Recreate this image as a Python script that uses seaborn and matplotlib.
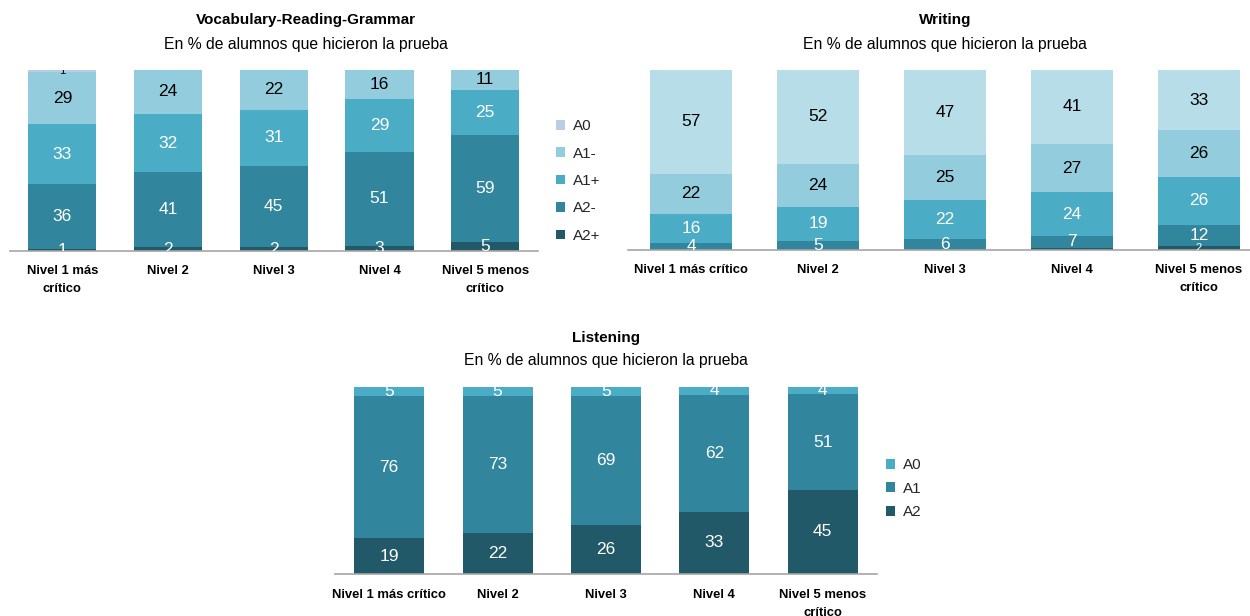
import matplotlib
matplotlib.use("Agg")
import matplotlib.pyplot as plt
import seaborn as sns
import numpy as np
import pandas as pd
from matplotlib.patches import Patch

sns.set_theme(style="white")
plt.rcParams['font.family'] = ['Liberation Sans', 'DejaVu Sans']

# ---------------- data ----------------
vrg_cats = ["Nivel 1 más\ncrítico", "Nivel 2", "Nivel 3", "Nivel 4", "Nivel 5 menos\ncrítico"]
wr_cats = ["Nivel 1 más crítico", "Nivel 2", "Nivel 3", "Nivel 4", "Nivel 5 menos\ncrítico"]
li_cats = ["Nivel 1 más crítico", "Nivel 2", "Nivel 3", "Nivel 4", "Nivel 5 menos\ncrítico"]

vrg_levels = ["A2+", "A2-", "A1+", "A1-", "A0"]
vrg_A2p = [1, 2, 2, 3, 5]
vrg_A2m = [36, 41, 45, 51, 59]
vrg_A1p = [33, 32, 31, 29, 25]
vrg_A1m = [29, 24, 22, 16, 11]
vrg_A0 = [1, 0, 0, 0, 0]

wr_A2p = [0, 0, 0, 1, 2]
wr_A2m = [4, 5, 6, 7, 12]
wr_A1p = [16, 19, 22, 24, 26]
wr_A1m = [22, 24, 25, 27, 26]
wr_A0 = [57, 52, 47, 41, 33]

li_levels = ["A2", "A1", "A0"]
li_A2 = [19, 22, 26, 33, 45]
li_A1 = [76, 73, 69, 62, 51]
li_A0 = [5, 5, 5, 4, 4]

titles = ["Vocabulary-Reading-Grammar", "Writing", "Listening"]
subtitle = "En % de alumnos que hicieron la prueba"

# ---------------- style ----------------
C_A2P = "#215968"
C_A2M = "#31859c"
C_A1P = "#4bacc6"
C_A1M = "#93cddd"
C_A0_VRG = "#b9cde5"
C_A0_WR = "#b7dee8"

W, H = 1250, 616
fig = plt.figure(figsize=(W / 100, H / 100), dpi=100)

def px_axes(l, t, r, b):
    return fig.add_axes([l / W, 1 - b / H, (r - l) / W, (b - t) / H])

def stacked(ax, cats, series, colors, txtcolors, small=None, min_label=1):
    raw = np.array(series, dtype=float)
    totals = raw.sum(axis=0)
    pct = raw / totals * 100.0  # 100% stacked columns
    bottom = np.zeros(len(cats))
    for i, (vals, col, tc) in enumerate(zip(pct, colors, txtcolors)):
        df = pd.DataFrame({"cat": cats, "val": vals})
        sns.barplot(data=df, x="cat", y="val", order=cats, color=col,
                    bottom=bottom, width=0.645, ax=ax, saturation=1,
                    edgecolor="none", linewidth=0, errorbar=None)
        for j, v in enumerate(vals):
            rv = raw[i][j]
            if rv < min_label:
                continue
            fs = 12.5
            if small is not None and small[i][j]:
                fs = 8
            ax.text(j, bottom[j] + v / 2, f"{int(rv)}", ha="center", va="center",
                    color=tc, fontsize=fs, clip_on=True)
        bottom = bottom + vals
    ax.set_xlim(-0.5, 4.5)
    ax.set_ylim(0, 100)
    ax.set_xlabel("")
    ax.set_ylabel("")
    ax.set_yticks([])
    for s in ["top", "left", "right"]:
        ax.spines[s].set_visible(False)
    ax.spines["bottom"].set_color("#a6a6a6")
    ax.spines["bottom"].set_linewidth(1.2)
    ax.tick_params(axis="x", length=0, pad=10)
    for lab in ax.get_xticklabels():
        lab.set_fontweight("bold")
        lab.set_fontsize(9.4)
        lab.set_color("#000000")
        lab.set_linespacing(1.65)

# VRG
ax1 = px_axes(9.5, 70, 538, 251)
stacked(ax1, vrg_cats, [vrg_A2p, vrg_A2m, vrg_A1p, vrg_A1m, vrg_A0],
        [C_A2P, C_A2M, C_A1P, C_A1M, C_A0_VRG],
        ["white", "white", "white", "black", "black"],
        small=[[0]*5, [0]*5, [0]*5, [0]*5, [1]*5])

# Writing
ax2 = px_axes(627.5, 70, 1262.5, 250)
stacked(ax2, wr_cats, [wr_A2p, wr_A2m, wr_A1p, wr_A1m, wr_A0],
        [C_A2P, C_A2M, C_A1P, C_A1M, C_A0_WR],
        ["white", "white", "white", "black", "black"],
        small=[[1]*5, [0]*5, [0]*5, [0]*5, [0]*5], min_label=2)

# Listening
ax3 = px_axes(335, 387, 877, 574)
stacked(ax3, li_cats, [li_A2, li_A1, li_A0],
        [C_A2P, C_A2M, C_A1P],
        ["white", "white", "white"])
ax3.tick_params(axis="x", pad=11)

# Titles
def title(xc, yt, text):
    fig.text(xc / W, 1 - yt / H, text, ha="center", va="center",
             fontsize=11, fontweight="bold", color="black")

def sub(xc, yt):
    fig.text(xc / W, 1 - yt / H, subtitle, ha="center", va="center",
             fontsize=11.3, color="black")

title(306, 20, titles[0]); sub(306, 44)
title(945, 20, titles[1]); sub(945, 44)
title(606, 338, titles[2]); sub(606, 361)

# Legends
h1 = [Patch(facecolor=c, edgecolor="none") for c in [C_A0_VRG, C_A1M, C_A1P, C_A2M, C_A2P]]
fig.legend(h1, ["A0", "A1-", "A1+", "A2-", "A2+"], loc="upper left",
           bbox_to_anchor=(550 / W, 1 - 113 / H), frameon=False,
           fontsize=11, handlelength=0.6, handleheight=0.6,
           handletextpad=0.5, labelspacing=0.88, borderaxespad=0)
h3 = [Patch(facecolor=c, edgecolor="none") for c in [C_A1P, C_A2M, C_A2P]]
fig.legend(h3, ["A0", "A1", "A2"], loc="upper left",
           bbox_to_anchor=(880 / W, 1 - 452 / H), frameon=False,
           fontsize=11, handlelength=0.6, handleheight=0.6,
           handletextpad=0.5, labelspacing=0.62, borderaxespad=0)

fig.savefig("out.png", dpi=100)
